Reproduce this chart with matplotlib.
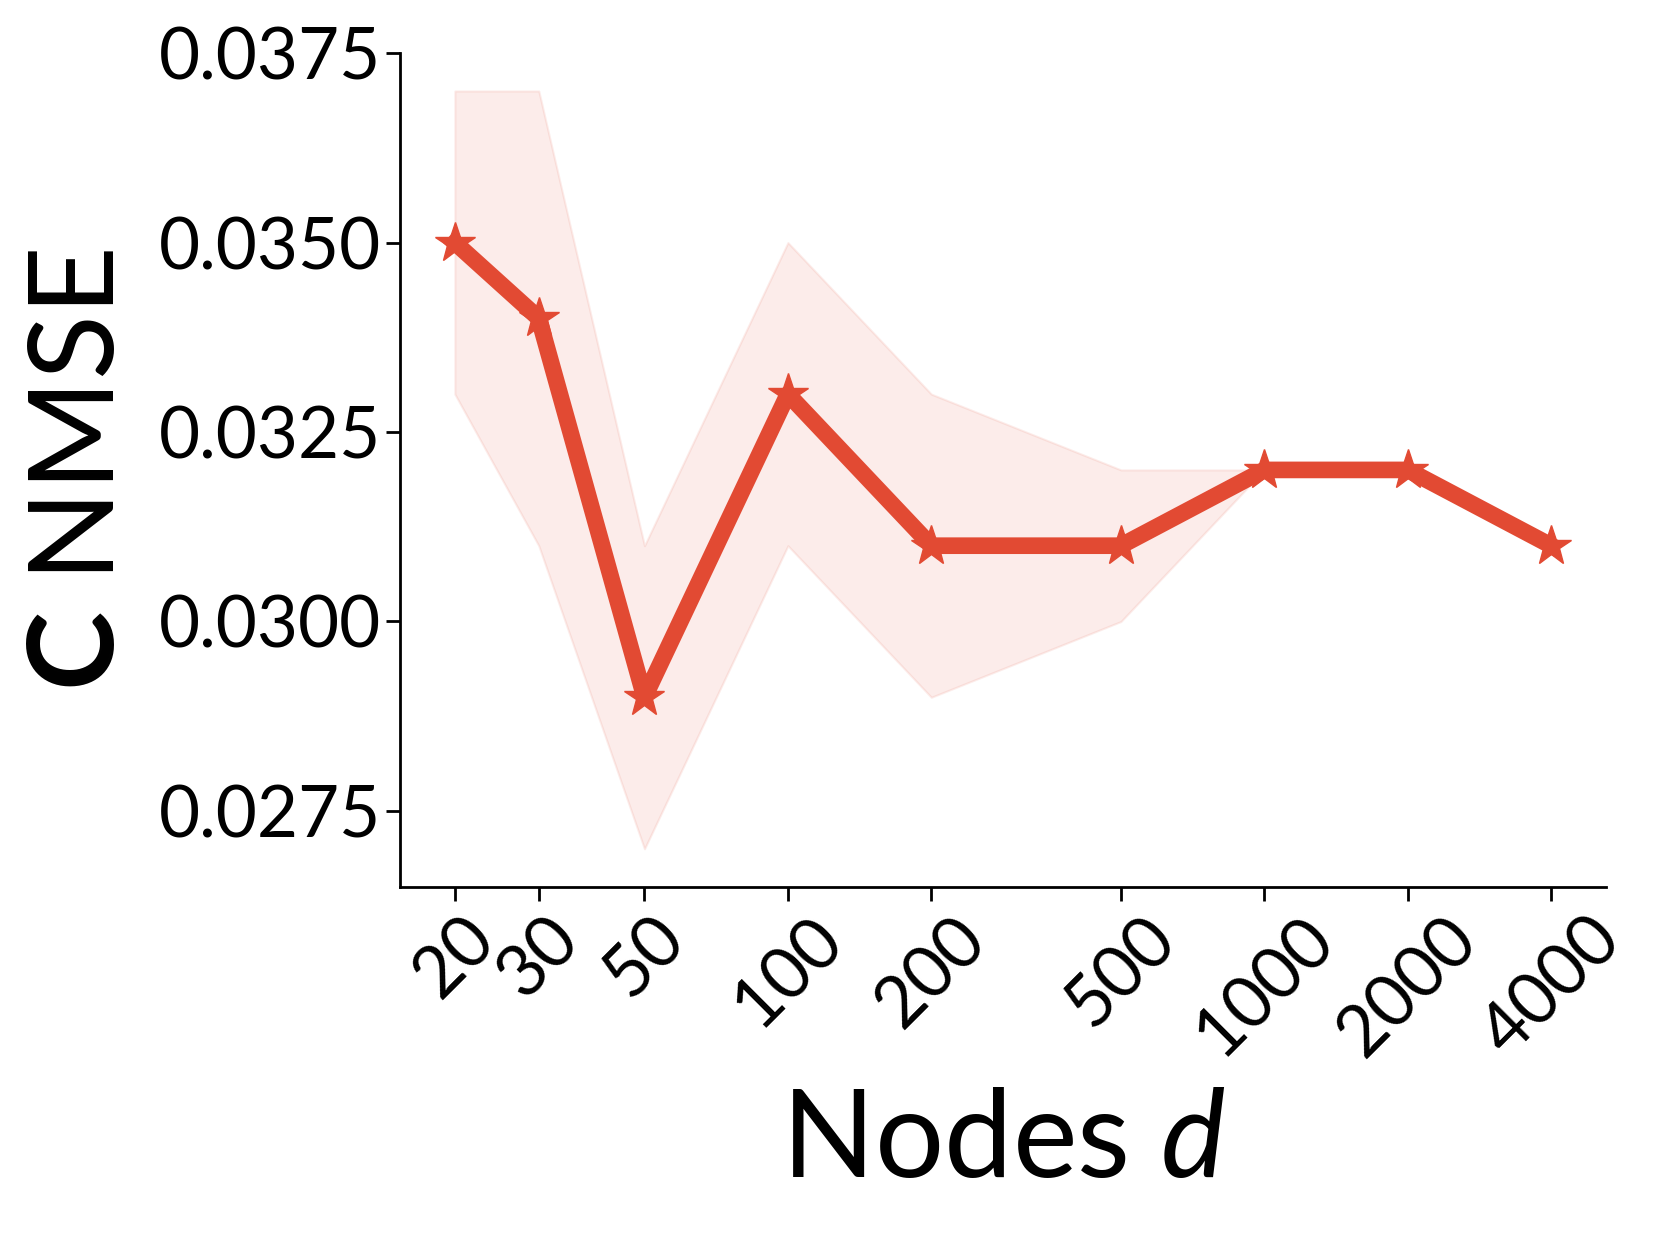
import matplotlib
matplotlib.use("Agg")
import matplotlib.pyplot as plt

# datos
nodos = [20, 30, 50, 100, 200, 500, 1000, 2000, 4000]
nmse_media = [0.0350, 0.0340, 0.0290, 0.0330, 0.0310, 0.0310, 0.0320, 0.0320, 0.0310]
nmse_sup = [0.0370, 0.0370, 0.0310, 0.0350, 0.0330, 0.0320, 0.0320, 0.0320, 0.0310]
nmse_inf = [0.0330, 0.0310, 0.0270, 0.0310, 0.0290, 0.0300, 0.0320, 0.0320, 0.0310]
yticks = [0.0275, 0.0300, 0.0325, 0.0350, 0.0375]

plt.rcParams["font.family"] = ["Lato", "DejaVu Sans"]
plt.rcParams["mathtext.fontset"] = "custom"
plt.rcParams["mathtext.rm"] = "Lato"
plt.rcParams["mathtext.it"] = "Lato:italic"
plt.rcParams["mathtext.bf"] = "Lato:bold"

color = "#E24A33"

fig = plt.figure(figsize=(16.6, 12.35), dpi=100)
ax = fig.add_axes([0.241, 0.282, 0.7265, 0.675])

ax.fill_between(nodos, nmse_inf, nmse_sup, color=color, alpha=0.1, linewidth=1.5)
ax.plot(nodos, nmse_media, color=color, linewidth=12, marker="*", markersize=30)

ax.set_xscale("log")
ax.set_xticks(nodos)
ax.set_xticklabels([str(n) for n in nodos], rotation=45, ha="center")
ax.minorticks_off()
ax.set_yticks(yticks)
ax.set_yticklabels(["%.4f" % v for v in yticks])
ax.set_ylim(0.0265, 0.0375)

ax.tick_params(axis="both", labelsize=51, length=10, width=2)
for s in ["top", "right"]:
    ax.spines[s].set_visible(False)
for s in ["left", "bottom"]:
    ax.spines[s].set_linewidth(2)

ax.set_xlabel(r"Nodes $d$", fontsize=88, labelpad=14)
ax.set_ylabel(r"$\mathbf{C}$ NMSE", fontsize=86, labelpad=18)

fig.savefig("out.png", dpi=100)
